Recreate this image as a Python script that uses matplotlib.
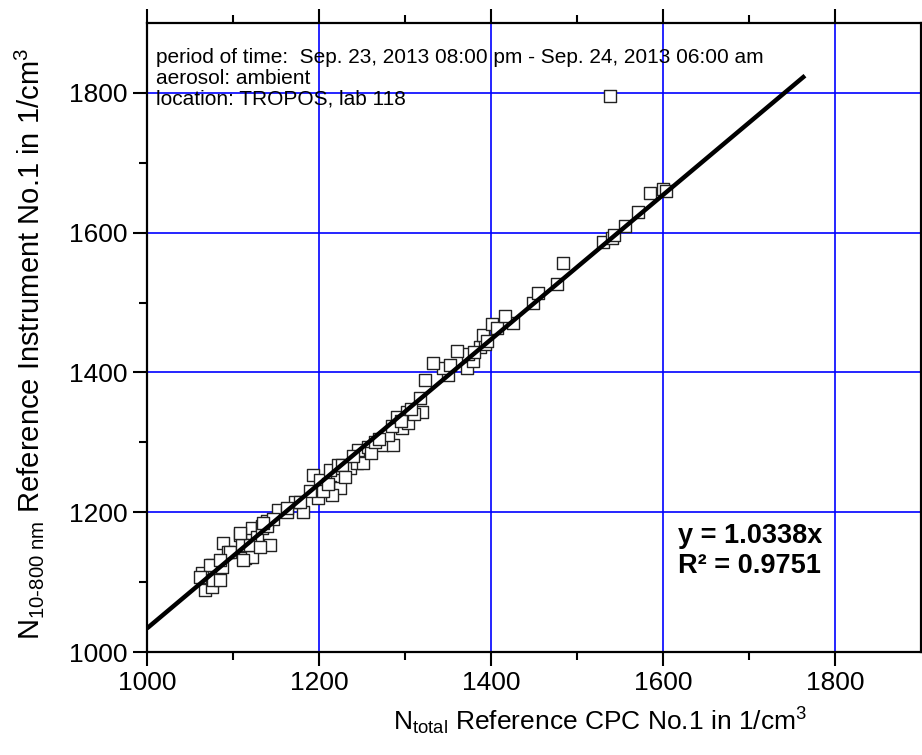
import matplotlib
matplotlib.use("Agg")
import matplotlib.pyplot as plt
import numpy as np

plt.rcParams['font.family'] = ['Liberation Sans', 'DejaVu Sans']
plt.rcParams['mathtext.fontset'] = 'custom'
plt.rcParams['mathtext.rm'] = 'Liberation Sans'
plt.rcParams['mathtext.it'] = 'Liberation Sans:italic'
plt.rcParams['mathtext.bf'] = 'Liberation Sans:bold'

# Data
n_total = [1064, 1067, 1076, 1077, 1085, 1076, 1087, 1088, 1094, 1097, 1108, 1110, 1114, 1122,
           1122, 1134, 1143, 1152, 1163, 1181, 1128, 1140, 1073, 1062, 1085, 1112, 1120, 1108,
           1131, 1134, 1140, 1147, 1135, 1172, 1163,
           1193, 1201, 1221, 1213, 1224, 1199, 1215, 1213, 1222, 1236, 1244, 1251, 1227, 1245,
           1257, 1273, 1286, 1280, 1297, 1285, 1303, 1291, 1302, 1320, 1317, 1323, 1350, 1372,
           1344, 1352, 1333, 1379, 1373, 1360, 1387, 1393, 1391, 1401, 1407, 1426, 1416, 1449,
           1455, 1477, 1484, 1530, 1541, 1556, 1571, 1585, 1600, 1538,
           1205, 1230, 1240, 1260, 1265, 1270, 1295, 1310, 1307, 1380, 1395, 1210, 1190, 1178,
           1543, 1603]
n_ref = [1113, 1089, 1093, 1103, 1103, 1124, 1121, 1156, 1143, 1143, 1167, 1153, 1134, 1136,
         1177, 1181, 1153, 1203, 1200, 1200, 1164, 1188, 1124, 1108, 1131, 1131, 1153, 1170,
         1150, 1177, 1181, 1191, 1185, 1214, 1206,
         1253, 1246, 1246, 1236, 1234, 1221, 1224, 1260, 1267, 1263, 1271, 1270, 1267, 1289,
         1293, 1296, 1296, 1310, 1320, 1324, 1327, 1336, 1343, 1343, 1364, 1389, 1396, 1406,
         1407, 1410, 1414, 1417, 1427, 1431, 1436, 1441, 1453, 1469, 1463, 1471, 1481, 1499,
         1514, 1527, 1557, 1586, 1593, 1610, 1629, 1657, 1663, 1795,
         1230, 1250, 1280, 1285, 1300, 1305, 1330, 1340, 1348, 1430, 1445, 1240, 1230, 1215,
         1596, 1660]
fit_slope = 1.0338
fit_x = [1000, 1765]
x_ticks = [1000, 1200, 1400, 1600, 1800]
y_ticks = [1000, 1200, 1400, 1600, 1800]

fig = plt.figure(figsize=(9.22, 7.55), dpi=100)
ax = fig.add_axes([0.1594, 0.1364, 0.8396, 0.8331])

ax.scatter(n_total, n_ref, marker='s', s=80, facecolors='white', edgecolors='#222222',
           linewidths=1.0, zorder=3)
fx = np.array(fit_x, dtype=float)
ax.plot(fx, fit_slope * fx, color='black', lw=3.2, zorder=4, solid_capstyle='butt')

ax.set_xlim(1000, 1900)
ax.set_ylim(1000, 1900)
ax.set_xticks(x_ticks)
ax.set_yticks(y_ticks)
ax.set_xticks(np.arange(1100, 1900, 200), minor=True)
ax.set_yticks(np.arange(1100, 1900, 200), minor=True)
ax.grid(True, which='major', color='#0000ff', lw=1.2, zorder=1)

for s in ax.spines.values():
    s.set_linewidth(1.6)
ax.tick_params(which='both', direction='out', top=True, right=True, width=1.5,
               labelsize=19, pad=4)
ax.tick_params(which='major', length=10)
ax.tick_params(which='minor', length=6)

ax.set_xlabel(r'N$_{\mathrm{total}}$ Reference CPC No.1 in 1/cm$^3$', fontsize=19, labelpad=9)
ax.xaxis.set_label_coords(0.585, -0.085)
ax.set_ylabel(r'N$_{\mathrm{10\text{-}800\ nm}}$ Reference Instrument No.1 in 1/cm$^3$',
              fontsize=21, labelpad=10)
ax.yaxis.set_label_coords(-0.13, 0.49)

ax.text(0.012, 0.96, 'period of time:  Sep. 23, 2013 08:00 pm - Sep. 24, 2013 06:00 am\n'
        'aerosol: ambient\nlocation: TROPOS, lab 118', transform=ax.transAxes,
        fontsize=15, va='top', ha='left', linespacing=1.1)
ax.text(0.686, 0.16, 'y = 1.0338x\nR² = 0.9751', transform=ax.transAxes,
        fontsize=19.5, fontweight='bold', va='center', ha='left', linespacing=1.2)

fig.savefig('out.png', dpi=100)
